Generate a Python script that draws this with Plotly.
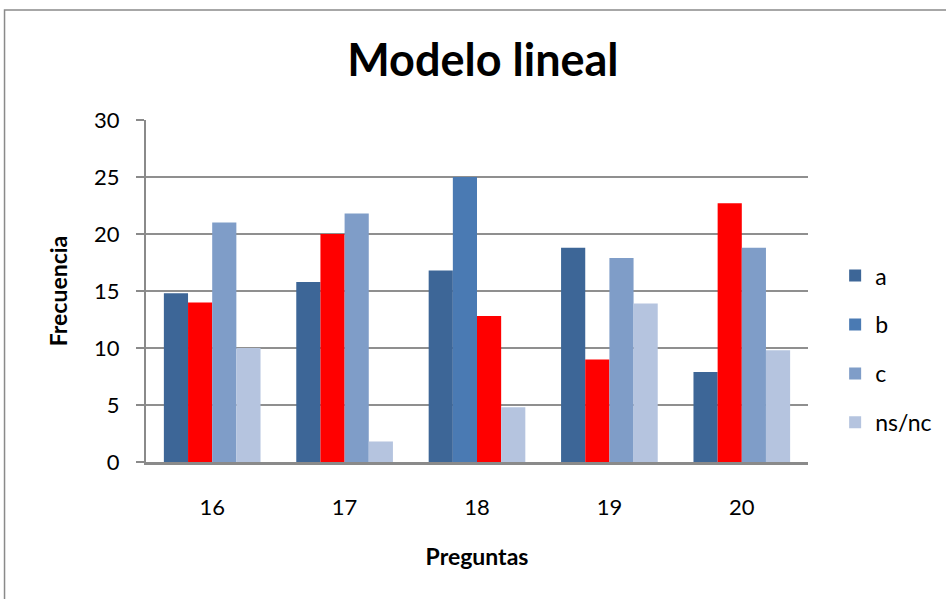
import plotly.graph_objects as go

# Question numbers and answer frequencies per option
preguntas = ["16", "17", "18", "19", "20"]
opciones = ["a", "b", "c", "ns/nc"]
frec_a = [14.8, 15.8, 16.8, 18.8, 7.9]
frec_b = [14, 20, 25, 9, 22.7]
frec_c = [21, 21.8, 12.8, 17.9, 18.8]
frec_nsnc = [10, 1.8, 4.8, 13.9, 9.8]
# Option highlighted in red for each question
resaltada = ["b", "b", "c", "b", "b"]

colores = {"a": "#3D6697", "b": "#4A7AB3", "c": "#7F9DC8", "ns/nc": "#B5C4DF"}
rojo = "#FF0000"
series = {"a": frec_a, "b": frec_b, "c": frec_c, "ns/nc": frec_nsnc}

FONT = "Lato, 'Open Sans', sans-serif"

fig = go.Figure()
for op in opciones:
    cols = [rojo if resaltada[i] == op else colores[op] for i in range(len(preguntas))]
    fig.add_trace(go.Bar(
        x=preguntas, y=series[op], name=op,
        marker=dict(color=cols, line=dict(width=0)),
        showlegend=False,
    ))

# Legend keys in each option's own colour
for op in opciones:
    fig.add_trace(go.Scatter(
        x=[None], y=[None], mode="markers", name=op,
        marker=dict(symbol="square", size=14, color=colores[op]),
        legendgroup=op,
    ))

# Outer chart frame
fig.add_shape(type="rect", xref="paper", yref="paper",
              x0=-0.2137, x1=1.214, y0=-0.43, y1=1.3216,
              line=dict(color="#8A8A8A", width=1.5), fillcolor="rgba(0,0,0,0)", layer="below")

fig.update_layout(
    width=946, height=599,
    margin=dict(l=146, r=138, t=120, b=137, autoexpand=False),
    paper_bgcolor="white", plot_bgcolor="white",
    barmode="group", bargap=0.27, bargroupgap=0,
    font=dict(family=FONT, color="black", size=22),
    title=dict(text="<b>Modelo lineal</b>", x=0.5105, xanchor="center",
               y=0.9, yanchor="middle", yref="container",
               font=dict(family=FONT, size=45, color="black")),
    legend=dict(x=1.041, xanchor="left", y=0.33, yanchor="middle",
                font=dict(size=23, family=FONT), tracegroupgap=16,
                itemsizing="constant", bgcolor="rgba(0,0,0,0)"),
    xaxis=dict(
        title=dict(text="<b>Preguntas</b>", font=dict(size=23), standoff=30),
        showline=True, linecolor="#8A8A8A", linewidth=3,
        ticks="", tickfont=dict(size=22), showgrid=False,
        ticklabelstandoff=24, automargin=False,
    ),
    yaxis=dict(
        title=dict(text="<b>Frecuencia</b>", font=dict(size=23), standoff=20),
        range=[0, 30], dtick=5,
        showline=True, linecolor="#8A8A8A", linewidth=2,
        ticks="outside", ticklen=8, tickcolor="#8A8A8A", tickwidth=2,
        ticklabelstandoff=12, automargin=False,
        showgrid=True, gridcolor="#8F8F8F", gridwidth=2,
        tickfont=dict(size=22), zeroline=False,
    ),
)

fig.write_html("out.html")
